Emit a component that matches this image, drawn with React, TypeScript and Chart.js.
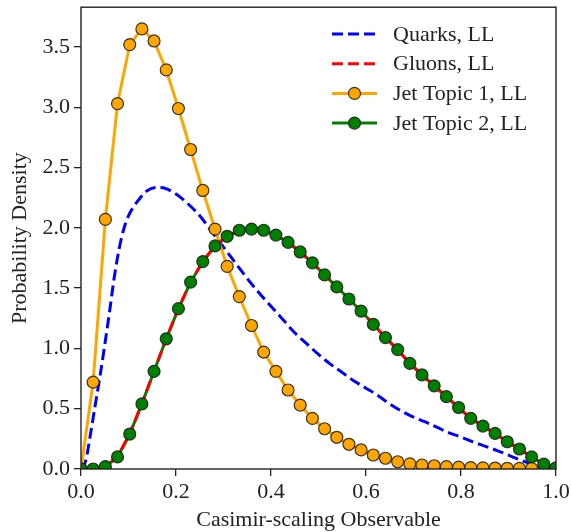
import React, { useEffect, useRef } from 'react';
import { Chart, registerables } from 'chart.js';

Chart.register(...registerables);

// Bin centres of the jet-topic histograms (observable value)
const topicX = [
  0, 0.0256, 0.0513, 0.0769, 0.1026, 0.1282, 0.1538, 0.1795, 0.2051, 0.2308,
  0.2564, 0.2821, 0.3077, 0.3333, 0.359, 0.3846, 0.4103, 0.4359, 0.4615, 0.4872,
  0.5128, 0.5385, 0.5641, 0.5897, 0.6154, 0.641, 0.6667, 0.6923, 0.7179, 0.7436,
  0.7692, 0.7949, 0.8205, 0.8462, 0.8718, 0.8974, 0.9231, 0.9487, 0.9744, 1,
];

const topic1 = [
  0, 0.72, 2.07, 3.03, 3.52, 3.65, 3.55, 3.31, 2.99, 2.65,
  2.31, 1.99, 1.68, 1.43, 1.19, 0.97, 0.81, 0.655, 0.53, 0.42,
  0.334, 0.263, 0.205, 0.158, 0.116, 0.089, 0.06, 0.042, 0.033, 0.027,
  0.02, 0.015, 0.012, 0.01, 0.008, 0.006, 0.005, 0.004, 0.003, 0.002,
];

const topic2 = [
  0, 0, 0.02, 0.1, 0.29, 0.54, 0.81, 1.08, 1.33, 1.55,
  1.72, 1.85, 1.93, 1.98, 1.99, 1.98, 1.94, 1.88, 1.8, 1.71,
  1.61, 1.51, 1.41, 1.31, 1.2, 1.09, 0.99, 0.876, 0.78, 0.69,
  0.6, 0.51, 0.42, 0.356, 0.295, 0.226, 0.166, 0.1, 0.04, 0.01,
];

const gluons = [
  0, 0, 0.02, 0.1, 0.29, 0.54, 0.81, 1.08, 1.33, 1.55,
  1.72, 1.85, 1.93, 1.98, 1.99, 1.98, 1.94, 1.88, 1.8, 1.71,
  1.61, 1.51, 1.41, 1.31, 1.2, 1.09, 0.99, 0.876, 0.78, 0.69,
  0.6, 0.51, 0.42, 0.356, 0.295, 0.226, 0.166, 0.1, 0.04, 0.01,
];

const quarkX = [
  0, 0.01, 0.02, 0.03, 0.04, 0.05, 0.06, 0.07, 0.08, 0.09,
  0.1, 0.11, 0.125, 0.14, 0.16, 0.175, 0.2, 0.225, 0.25, 0.275,
  0.3, 0.325, 0.35, 0.375, 0.4, 0.425, 0.45, 0.475, 0.5, 0.525,
  0.55, 0.575, 0.6, 0.625, 0.65, 0.675, 0.7, 0.725, 0.75, 0.775,
  0.8, 0.825, 0.85, 0.875, 0.9, 0.925, 0.95, 0.975, 1,
];

const quarks = [
  0, 0.07, 0.29, 0.53, 0.77, 1.03, 1.3, 1.59, 1.82, 1.99,
  2.1, 2.17, 2.25, 2.31, 2.335, 2.33, 2.28, 2.2, 2.1, 1.97,
  1.84, 1.71, 1.58, 1.46, 1.35, 1.24, 1.13, 1.04, 0.95, 0.87,
  0.8, 0.73, 0.67, 0.61, 0.54, 0.48, 0.43, 0.39, 0.345, 0.3,
  0.265, 0.225, 0.19, 0.155, 0.115, 0.075, 0.04, 0.015, 0,
];

const xTicks = [0, 0.2, 0.4, 0.6, 0.8, 1.0];
const yTicks = [0, 0.5, 1.0, 1.5, 2.0, 2.5, 3.0, 3.5];

const legendLabels = ['Quarks, LL', 'Gluons, LL', 'Jet Topic 1, LL', 'Jet Topic 2, LL'];

const FONT = "'Liberation Serif', 'Times New Roman', serif";
const TEXT = '#222';
const EDGE = 'rgba(25,25,25,0.85)';

const pts = (xs: number[], ys: number[]) => xs.map((x, i) => ({ x, y: ys[i] }));

const legendStyles = [
  { color: '#0000ff', dash: [11, 5], marker: null as string | null },
  { color: '#ff0000', dash: [11, 5], marker: null as string | null },
  { color: '#ffa500', dash: [] as number[], marker: '#ffa500' },
  { color: '#008000', dash: [] as number[], marker: '#008000' },
];

const framePlugin = {
  id: 'frame',
  afterDraw(chart: any) {
    const { ctx, chartArea: a } = chart;
    ctx.save();
    ctx.strokeStyle = '#222';
    ctx.lineWidth = 1.4;
    ctx.setLineDash([]);
    ctx.strokeRect(a.left, a.top, a.right - a.left, a.bottom - a.top);
    ctx.restore();
  },
};

const legendPlugin = {
  id: 'mplLegend',
  afterDraw(chart: any) {
    const ctx = chart.ctx;
    const x0 = 332;
    const x1 = 377;
    const tx = 393;
    const y0 = 34;
    const dy = 29.7;
    ctx.save();
    legendLabels.forEach((label, i) => {
      const st = legendStyles[i];
      const y = y0 + i * dy;
      ctx.beginPath();
      ctx.setLineDash(st.dash);
      ctx.strokeStyle = st.color;
      ctx.lineWidth = 3;
      ctx.moveTo(x0, y);
      ctx.lineTo(x1, y);
      ctx.stroke();
      ctx.setLineDash([]);
      if (st.marker) {
        ctx.beginPath();
        ctx.arc((x0 + x1) / 2, y, 6, 0, Math.PI * 2);
        ctx.fillStyle = st.marker;
        ctx.fill();
        ctx.lineWidth = 1.2;
        ctx.strokeStyle = EDGE;
        ctx.stroke();
      }
      ctx.fillStyle = TEXT;
      ctx.font = `22px ${FONT}`;
      ctx.textAlign = 'left';
      ctx.textBaseline = 'middle';
      ctx.fillText(label, tx, y + 1);
    });
    ctx.restore();
  },
};

export default function App() {
  const ref = useRef<HTMLCanvasElement | null>(null);

  useEffect(() => {
    if (!ref.current) return;
    const chart = new Chart(ref.current, {
      type: 'line',
      data: {
        datasets: [
          {
            label: 'Jet Topic 2, LL (markers)',
            data: pts(topicX, topic2),
            showLine: false,
            pointRadius: 6,
            pointBackgroundColor: '#008000',
            pointBorderColor: EDGE,
            pointBorderWidth: 1.2,
            order: 1,
            clip: 0,
          } as any,
          {
            label: 'Gluons, LL',
            data: pts(topicX, gluons),
            borderColor: '#ff0000',
            borderWidth: 3,
            borderDash: [11, 5],
            pointRadius: 0,
            tension: 0,
            order: 2,
            clip: 0,
          },
          {
            label: 'Jet Topic 2, LL',
            data: pts(topicX, topic2),
            borderColor: '#008000',
            borderWidth: 3,
            pointRadius: 0,
            tension: 0,
            order: 3,
            clip: 0,
          },
          {
            label: 'Jet Topic 1, LL',
            data: pts(topicX, topic1),
            borderColor: '#ffa500',
            borderWidth: 3,
            pointRadius: 6,
            pointBackgroundColor: '#ffa500',
            pointBorderColor: EDGE,
            pointBorderWidth: 1.2,
            tension: 0,
            order: 4,
            clip: 0,
          },
          {
            label: 'Quarks, LL',
            data: pts(quarkX, quarks),
            borderColor: '#0000ff',
            borderWidth: 3,
            borderDash: [11, 5],
            pointRadius: 0,
            cubicInterpolationMode: 'monotone',
            order: 5,
            clip: 0,
          },
        ],
      },
      options: {
        animation: false,
        responsive: true,
        maintainAspectRatio: false,
        devicePixelRatio: 1,
        layout: { padding: { top: 7, right: 15, left: 0, bottom: 0 } },
        plugins: {
          legend: { display: false },
          tooltip: { enabled: false },
        },
        scales: {
          x: {
            type: 'linear',
            min: 0,
            max: 1,
            afterBuildTicks: (s: any) => {
              s.ticks = xTicks.map((v) => ({ value: v }));
            },
            afterFit: (s: any) => {
              s.height = 63;
              s.paddingLeft = 0;
              s.paddingRight = 0;
            },
            ticks: {
              font: { family: FONT, size: 22 },
              color: TEXT,
              padding: 3,
              maxRotation: 0,
              callback: (v: any) => Number(v).toFixed(1),
            },
            grid: {
              drawOnChartArea: false,
              drawTicks: true,
              tickLength: 7,
              color: '#222',
              lineWidth: 1.3,
            },
            border: { display: false },
            title: {
              display: true,
              text: 'Casimir-scaling Observable',
              font: { family: FONT, size: 22 },
              color: TEXT,
              padding: { top: 0, bottom: -1 },
            },
          },
          y: {
            type: 'linear',
            min: 0,
            max: 3.83,
            afterBuildTicks: (s: any) => {
              s.ticks = yTicks.map((v) => ({ value: v }));
            },
            afterFit: (s: any) => {
              s.width = 81;
              s.paddingTop = 0;
              s.paddingBottom = 0;
            },
            ticks: {
              font: { family: FONT, size: 22 },
              color: TEXT,
              padding: 4,
              callback: (v: any) => Number(v).toFixed(1),
            },
            grid: {
              drawOnChartArea: false,
              drawTicks: true,
              tickLength: 7,
              color: '#222',
              lineWidth: 1.3,
            },
            border: { display: false },
            title: {
              display: true,
              text: 'Probability Density',
              font: { family: FONT, size: 22 },
              color: TEXT,
              padding: { top: 7, bottom: 0 },
            },
          },
        },
      },
      plugins: [framePlugin, legendPlugin],
    });
    return () => chart.destroy();
  }, []);

  return (
    <div style={{ position: 'absolute', left: 0, top: 0, width: 571, height: 532, background: '#fff' }}>
      <canvas ref={ref} />
    </div>
  );
}
